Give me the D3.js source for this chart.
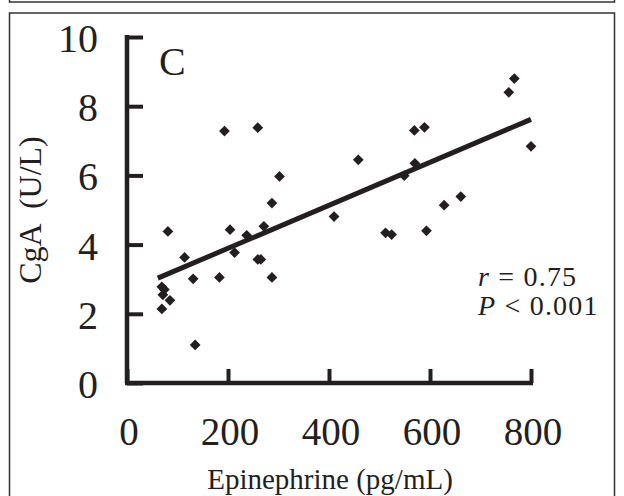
<!DOCTYPE html>
<html>
<head>
<meta charset="utf-8">
<script src="https://cdn.jsdelivr.net/npm/d3@7"></script>
<style>
  html, body { margin: 0; padding: 0; background: #fff; }
  svg text { font-family: "Liberation Serif", "Times New Roman", serif; fill: #231f20; }
</style>
</head>
<body>
<div id="chart"></div>
<script>
// epinephrine (pg/mL) vs CgA (U/L)
var epinephrine = [69, 71, 69, 74, 85, 81, 114, 131, 135, 183, 193, 204, 213, 237, 259, 265, 259, 271, 287, 287, 302, 410, 458, 512, 524, 549, 569, 570, 589, 593, 628, 661, 756, 767, 800];
var cga         = [2.14, 2.55, 2.78, 2.70, 2.39, 4.38, 3.63, 3.01, 1.10, 3.05, 7.28, 4.43, 3.77, 4.27, 3.57, 3.57, 7.38, 4.53, 3.05, 5.20, 5.97, 4.81, 6.45, 4.34, 4.29, 5.99, 7.30, 6.35, 7.39, 4.40, 5.14, 5.39, 8.40, 8.80, 6.84];
var fitX = [61, 800];
var fitY = [3.03, 7.62];
var xTicks = [0, 200, 400, 600, 800];
var yTicks = [0, 2, 4, 6, 8, 10];

var W = 624, H = 496;
var svg = d3.select("#chart").append("svg")
    .attr("width", W).attr("height", H);

// panel frames
svg.append("rect").attr("x", 9.5).attr("y", -20).attr("width", 605).attr("height", 22)
    .attr("fill", "none").attr("stroke", "#333").attr("stroke-width", 1.5);
svg.append("rect").attr("x", 9.5).attr("y", 13).attr("width", 605).attr("height", 500)
    .attr("fill", "none").attr("stroke", "#333").attr("stroke-width", 1.5);

var x = d3.scaleLinear().domain([0, 800]).range([127, 531]);
var y = d3.scaleLinear().domain([0, 10]).range([383, 37]);

var ink = "#231f20";

// axes drawn inward like the original
var gx = svg.append("g").attr("transform", "translate(0," + y(0) + ")")
    .call(d3.axisTop(x).tickValues(xTicks).tickSize(14).tickFormat(""));
var gy = svg.append("g").attr("transform", "translate(" + x(0) + ",0)")
    .call(d3.axisRight(y).tickValues(yTicks).tickSize(16).tickFormat(""));
[gx, gy].forEach(function (g) {
  g.select(".domain").attr("stroke", ink).attr("stroke-width", 4.5);
  g.selectAll(".tick line").attr("stroke", ink).attr("stroke-width", 4);
});
gx.select(".domain").attr("d", "M" + (x(0) - 2) + ",0H" + (x(800) + 2));
gy.select(".domain").attr("d", "M0," + (y(10) - 2) + "V" + y(0));

// tick labels
svg.selectAll(".xl").data(xTicks).enter().append("text")
    .attr("x", function (d) { return x(d) + 2; })
    .attr("y", 445)
    .attr("text-anchor", "middle")
    .style("font-size", "39px")
    .text(function (d) { return d; });
svg.selectAll(".yl").data(yTicks).enter().append("text")
    .attr("x", 98)
    .attr("y", function (d) { return y(d) + 15; })
    .attr("text-anchor", "end")
    .style("font-size", "40px")
    .text(function (d) { return d; });

// titles
svg.append("text").attr("x", 330).attr("y", 489).attr("text-anchor", "middle")
    .style("font-size", "29px").text("Epinephrine (pg/mL)");
svg.append("text").attr("transform", "translate(41,210) rotate(-90)")
    .attr("text-anchor", "middle").style("font-size", "32px")
    .attr("xml:space", "preserve").text("CgA  (U/L)");
svg.append("text").attr("x", 159).attr("y", 75).style("font-size", "40px").text("C");

// regression line
svg.append("line")
    .attr("x1", x(fitX[0])).attr("y1", y(fitY[0]))
    .attr("x2", x(fitX[1])).attr("y2", y(fitY[1]))
    .attr("stroke", ink).attr("stroke-width", 5);

// points (diamonds)
svg.selectAll(".pt").data(d3.zip(epinephrine, cga)).enter().append("rect")
    .attr("x", -3.8).attr("y", -3.8).attr("width", 7.6).attr("height", 7.6)
    .attr("fill", ink)
    .attr("transform", function (d) { return "translate(" + x(d[0]) + "," + y(d[1]) + ") rotate(45)"; });

// stats
var st = svg.append("text").attr("x", 478).attr("y", 286)
    .style("font-size", "28px").style("letter-spacing", "1.2px");
st.append("tspan").style("font-style", "italic").text("r");
st.append("tspan").text(" = 0.75");
var sp = svg.append("text").attr("x", 478).attr("y", 315)
    .style("font-size", "28px").style("letter-spacing", "1.2px");
sp.append("tspan").style("font-style", "italic").text("P");
sp.append("tspan").text(" < 0.001");
</script>
</body>
</html>
